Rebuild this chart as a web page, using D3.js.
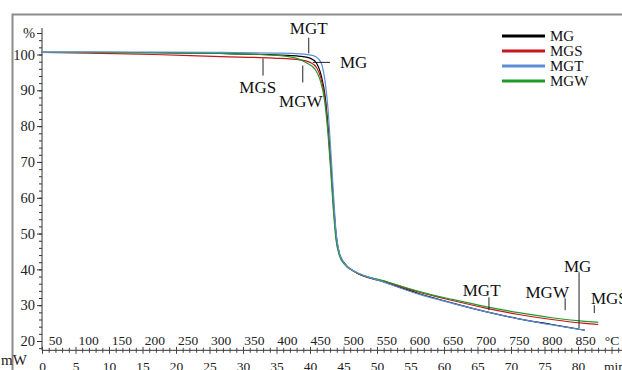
<!DOCTYPE html>
<html>
<head>
<meta charset="utf-8">
<script src="https://cdn.jsdelivr.net/npm/d3@7"></script>
<style>
  body { margin: 0; background: #fff; }
  svg text { font-family: "Liberation Serif", "Times New Roman", "DejaVu Serif", serif; }
</style>
</head>
<body>
<div id="chart"></div>
<script>
// data (temperature in °C, mass in %)
const names = ['MG', 'MGS', 'MGT', 'MGW'];
const colors = ['#000000', '#c8141c', '#5b8ed6', '#1f9a2a'];

const mgT  = [30, 100, 200, 300, 380, 420, 435, 445, 452, 458, 463, 467, 471, 475, 480, 488, 500, 550, 600, 650, 700, 750, 800, 850];
const mgV  = [100.6, 100.6, 100.5, 100.3, 99.9, 99.5, 99.0, 97.5, 94, 88, 78, 68, 57, 48.5, 44, 41.5, 39.6, 36.3, 33.2, 30.6, 28.2, 26.2, 24.6, 23.0];

const mgsT = [30, 100, 200, 300, 380, 420, 435, 445, 452, 458, 463, 467, 471, 475, 480, 488, 500, 550, 600, 650, 700, 750, 800, 850, 870];
const mgsV = [100.6, 100.4, 100.0, 99.4, 99.0, 98.5, 97.8, 96.3, 93, 87, 77, 67, 56, 48, 43.8, 41.3, 39.6, 36.5, 33.6, 31.3, 29.2, 27.4, 26.0, 24.9, 24.6];

const mgtT = [30, 100, 200, 300, 380, 420, 440, 448, 453, 458, 462, 466, 470, 474, 478, 484, 492, 500, 550, 600, 650, 700, 750, 800, 850];
const mgtV = [100.6, 100.7, 100.7, 100.6, 100.4, 100.2, 99.7, 98.7, 97, 92, 85, 74, 62, 51, 45.5, 42.5, 40.6, 39.7, 36.2, 33.0, 30.5, 28.2, 26.2, 24.5, 23.0];

const mgwT = [30, 100, 200, 300, 380, 415, 430, 442, 450, 457, 462, 466, 470, 474, 479, 487, 500, 550, 600, 650, 700, 750, 800, 850, 870];
const mgwV = [100.6, 100.6, 100.5, 100.3, 99.8, 98.9, 97.6, 96, 93, 87, 78, 68, 57, 48.5, 44, 41.4, 39.6, 36.6, 33.8, 31.6, 29.6, 27.9, 26.5, 25.5, 25.2];

// tick labels
const tempTicks = d3.range(50, 851, 50);
const timeTicks = d3.range(0, 81, 5);
const massTicks = d3.range(20, 101, 10);

// annotations: leader line and label, in data units
const notes = [
  { text: 'MGT', x1: 433, y1: 104.7, x2: 433, y2: 100.3, tx: 433, ty: 105.6, anchor: 'middle' },
  { text: 'MG',  x1: 439, y1: 97.8, x2: 465, y2: 97.8, tx: 480, ty: 96.2, anchor: 'start' },
  { text: 'MGS', x1: 364, y1: 98.9, x2: 364, y2: 94.1, tx: 356, ty: 89.2, anchor: 'middle' },
  { text: 'MGW', x1: 424, y1: 96.9, x2: 424, y2: 92.2, tx: 421, ty: 85.3, anchor: 'middle' },
  { text: 'MGT', x1: 705, y1: 32.2, x2: 705, y2: 28.6, tx: 694, ty: 32.6, anchor: 'middle' },
  { text: 'MGW', x1: 820, y1: 31.9, x2: 820, y2: 28.6, tx: 793, ty: 32.0, anchor: 'middle' },
  { text: 'MG',  x1: 841, y1: 39.2, x2: 841, y2: 23.6, tx: 839, ty: 39.4, anchor: 'middle' },
  { text: 'MGS', x1: 864, y1: 30.0, x2: 864, y2: 27.8, tx: 859, ty: 30.3, anchor: 'start' }
];

const width = 622;
const height = 370;

const svg = d3.select('#chart').append('svg')
  .attr('width', width)
  .attr('height', height);

// outer frame
svg.append('rect')
  .attr('x', 12.5).attr('y', 14.5)
  .attr('width', 700).attr('height', 400)
  .attr('fill', 'none')
  .attr('stroke', '#8c8c8c')
  .attr('stroke-width', 2);

// scales
const x = d3.scaleLinear().domain([50, 850]).range([55, 585]);
const xTime = d3.scaleLinear().domain([0, 80]).range([42, 578]);
const y = d3.scaleLinear().domain([100, 20]).range([54.5, 341]);
const axisY = y(17.4);

// y axis
const yAxis = svg.append('g').attr('transform', 'translate(42,0)');
yAxis.append('line')
  .attr('y1', y(107.4)).attr('y2', axisY)
  .attr('stroke', '#333');
yAxis.call(d3.axisLeft(y).tickValues(d3.range(18, 107, 2)).tickSize(3).tickFormat(''))
  .call(g => g.select('.domain').remove());
const yMajor = svg.append('g').attr('transform', 'translate(42,0)')
  .call(d3.axisLeft(y).tickValues(massTicks.concat([106])).tickSize(5).tickPadding(2)
    .tickFormat(d => d === 106 ? '%' : d))
  .call(g => g.select('.domain').remove());
yMajor.selectAll('text').attr('font-size', 14.5).attr('fill', '#222');
svg.selectAll('.tick line').attr('stroke', '#333');

// x axis: time ticks crossing the line
const xg = svg.append('g').attr('transform', `translate(0,${axisY})`);
xg.append('line').attr('x1', 42).attr('x2', width).attr('stroke', '#333');
const minor = d3.range(0, 87, 1);
[d3.axisBottom, d3.axisTop].forEach(ax => {
  xg.append('g')
    .call(ax(xTime).tickValues(minor).tickSize(2.5).tickFormat(''))
    .call(g => g.select('.domain').remove())
    .selectAll('.tick line')
    .attr('stroke', '#444')
    .attr('y2', d => (d % 5 === 0 ? 3.5 : 2.5) * (ax === d3.axisBottom ? 1 : -1));
});

// temperature labels above the axis
const tempAxis = xg.append('g')
  .call(d3.axisTop(x).tickValues(tempTicks).tickSize(0).tickPadding(5))
  .call(g => g.select('.domain').remove());
tempAxis.selectAll('text').attr('font-size', 13.5).attr('fill', '#222');

// time labels below the axis
const timeAxis = xg.append('g')
  .call(d3.axisBottom(xTime).tickValues(timeTicks).tickSize(0).tickPadding(11))
  .call(g => g.select('.domain').remove());
timeAxis.selectAll('text').attr('font-size', 13.5).attr('fill', '#222');

xg.append('text').attr('x', 612).attr('y', -5).attr('text-anchor', 'middle')
  .attr('font-size', 13.5).attr('fill', '#222').text('°C');
xg.append('text').attr('x', 604).attr('y', 21).attr('text-anchor', 'start')
  .attr('font-size', 13.5).attr('fill', '#222').text('min');
xg.append('text').attr('x', 1).attr('y', 15).attr('text-anchor', 'start')
  .attr('font-size', 15).attr('fill', '#222').text('mW');

// curves
const series = [
  { name: 'MG', t: mgT, v: mgV },
  { name: 'MGS', t: mgsT, v: mgsV },
  { name: 'MGW', t: mgwT, v: mgwV },
  { name: 'MGT', t: mgtT, v: mgtV }
];
const line = d3.line()
  .x(d => x(d[0]))
  .y(d => y(d[1]))
  .curve(d3.curveMonotoneX);

svg.append('g').selectAll('path')
  .data(series)
  .join('path')
  .attr('d', s => line(s.t.map((t, i) => [t, s.v[i]])))
  .attr('fill', 'none')
  .attr('stroke', s => colors[names.indexOf(s.name)])
  .attr('stroke-width', 1.2);

// annotations
const ann = svg.append('g');
notes.forEach(n => {
  ann.append('line')
    .attr('x1', x(n.x1)).attr('y1', y(n.y1))
    .attr('x2', x(n.x2)).attr('y2', y(n.y2))
    .attr('stroke', '#222').attr('stroke-width', 1);
  ann.append('text')
    .attr('x', x(n.tx)).attr('y', y(n.ty))
    .attr('text-anchor', n.anchor)
    .attr('font-size', 17).attr('fill', '#111')
    .text(n.text);
});

// legend
const legend = svg.append('g').attr('transform', 'translate(502,36)');
names.forEach((name, i) => {
  const row = legend.append('g').attr('transform', `translate(0,${i * 15})`);
  row.append('line').attr('x1', 0).attr('x2', 43)
    .attr('stroke', colors[i]).attr('stroke-width', 3);
  row.append('text').attr('x', 48).attr('y', 5)
    .attr('font-size', 15).attr('fill', '#111').text(name);
});
</script>
</body>
</html>
